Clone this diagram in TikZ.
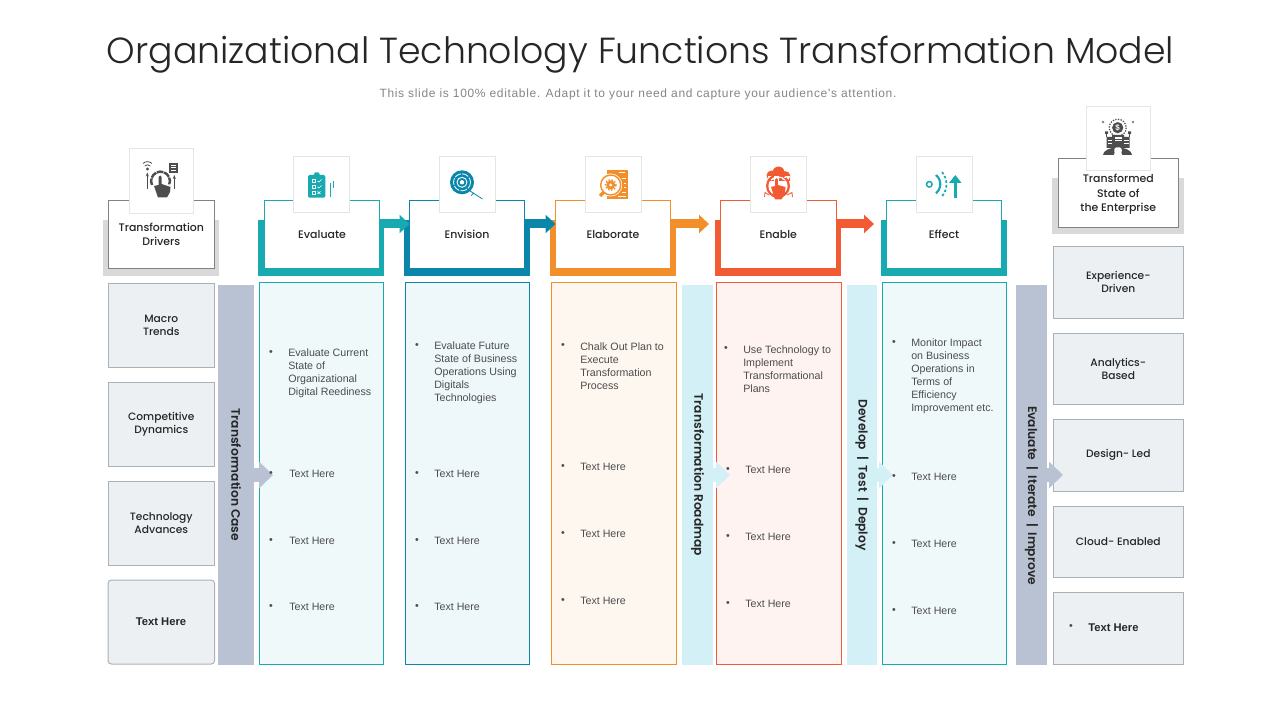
\documentclass[tikz,border=0pt]{standalone}
\usepackage{fontspec}
\setmainfont{Liberation Sans}
\newfontfamily\headfont{Poppins}
\newfontfamily\titlefont{Poppins Light}
\newfontfamily\midfont{Poppins Medium}
\newfontfamily\barfont{Poppins SemiBold}
\newfontfamily\subfont[LetterSpace=5.6]{Liberation Sans}
\usetikzlibrary{arrows.meta}
\def\pxu{0.75pt}
\definecolor{tealc}{HTML}{17ABB1}
\definecolor{bluec}{HTML}{0A86AB}
\definecolor{orangec}{HTML}{F28F2A}
\definecolor{redc}{HTML}{F15A32}
\definecolor{greyc}{HTML}{D9D9D9}
\definecolor{inkc}{HTML}{262626}
\definecolor{iconc}{HTML}{4D4D4D}
\definecolor{slatec}{HTML}{B8C2D2}
\definecolor{skyc}{HTML}{D3F0F7}
\definecolor{sidec}{HTML}{ECF0F2}
\definecolor{edgec}{HTML}{A8B2B8}
\tikzset{
  backbox/.style={rectangle,draw=none,inner sep=0pt,minimum width=126*\pxu,minimum height=56*\pxu},
  headbox/.style={rectangle,draw=#1,fill=white,line width=\pxu,inner sep=0pt,align=center,text=inkc,
    font=\midfont\fontsize{8.2}{10.4}\selectfont,minimum width=115.5*\pxu,minimum height=68*\pxu},
  iconbox/.style={rectangle,draw=black!10,fill=white,line width=\pxu,inner sep=0pt,minimum width=56*\pxu,minimum height=56*\pxu},
  columnbox/.style={rectangle,draw=#1,line width=\pxu,inner sep=0pt,minimum width=124*\pxu,minimum height=382*\pxu},
  sidebox/.style={rectangle,draw=edgec,fill=sidec,line width=\pxu,inner sep=0pt,align=center,
    text=inkc,font=\midfont\fontsize{8}{9.8}\selectfont},
  barbox/.style={rectangle,fill=#1,inner sep=0pt,rotate=-90,text=inkc,minimum width=380*\pxu,
    font=\barfont\fontsize{9.2}{11}\selectfont},
  flowarrow/.style={line width=9*\pxu,-{Triangle[length=10*\pxu,width=18*\pxu]}},
  bararrow/.style={line width=14*\pxu,-{Triangle[length=14*\pxu,width=26*\pxu]}},
  bodytext/.style={anchor=west,inner sep=0pt,align=left,text=iconc,font=\fontsize{8}{9.75}\selectfont},
  dotmark/.style={inner sep=0pt,text=iconc,font=\fontsize{8}{9.75}\selectfont},
  boldtext/.style={inner sep=0pt,text=inkc,font=\bfseries\fontsize{8.4}{9.75}\selectfont}
}
\begin{document}
\begin{tikzpicture}[x=\pxu,y=-\pxu]
\useasboundingbox (0,0) rectangle (1280,720);

\node[inner sep=0pt,text=inkc,font=\titlefont\fontsize{27.2}{32}\selectfont] (title) at (640.5,54.5) {Organizational Technology Functions Transformation Model};
\node[inner sep=0pt,text=black!48,font=\subfont\fontsize{9}{11}\selectfont] (subtitle) at (638,94.5) {This slide is 100\% editable. Adapt it to your need and capture your audience's attention.};

\node[backbox,fill=greyc,minimum width=116*\pxu] (driversBack) at (161,248) {};
\node[backbox,fill=tealc] (evaluateBack) at (321,248) {};
\node[backbox,fill=bluec] (envisionBack) at (467,248) {};
\node[backbox,fill=orangec] (elaborateBack) at (613,248) {};
\node[backbox,fill=redc] (enableBack) at (778,248) {};
\node[backbox,fill=tealc] (effectBack) at (944,248) {};
\node[backbox,fill=greyc,minimum width=132*\pxu] (stateBack) at (1118,206) {};

\coordinate (evaluateOut) at (380,224);
\coordinate (envisionOut) at (525,224);
\coordinate (elaborateOut) at (671,224);
\coordinate (enableOut) at (836,224);
\coordinate (envisionIn) at (409.5,224);
\coordinate (elaborateIn) at (555.5,224);
\coordinate (enableIn) at (709,224);
\coordinate (effectIn) at (874,224);
\draw[flowarrow,tealc] (evaluateOut) -- (envisionIn);
\draw[flowarrow,bluec] (envisionOut) -- (elaborateIn);
\draw[flowarrow,orangec] (elaborateOut) -- (enableIn);
\draw[flowarrow,redc] (enableOut) -- (effectIn);

\node[headbox=iconc!70,minimum width=106.5*\pxu] (drivers) at (161.3,234.3) {Transformation\\Drivers};
\node[headbox=tealc] (evaluate) at (322,234.8) {Evaluate};
\node[headbox=bluec] (envision) at (467,234.8) {Envision};
\node[headbox=orangec] (elaborate) at (613,234.8) {Elaborate};
\node[headbox=redc] (enable) at (778.3,234.8) {Enable};
\node[headbox=tealc] (effect) at (944,234.8) {Effect};
\node[headbox=iconc!70,minimum width=120.5*\pxu,minimum height=69*\pxu] (state) at (1118.3,193.2) {};
\node[inner sep=0pt,align=center,text=inkc,font=\midfont\fontsize{8.2}{10.9}\selectfont] (stateLabel) at (1118.3,194.5) {Transformed\\State of\\the Enterprise};

\node[iconbox,minimum width=64.5*\pxu,minimum height=65*\pxu] (driversIcon) at (161.3,181) {};
\node[iconbox] (evaluateIcon) at (321.5,185) {};
\node[iconbox] (envisionIcon) at (467.5,185) {};
\node[iconbox] (elaborateIcon) at (613.3,185) {};
\node[iconbox] (enableIcon) at (778.6,185) {};
\node[iconbox] (effectIcon) at (944,185) {};
\node[iconbox,minimum width=64.5*\pxu,minimum height=64*\pxu] (stateIcon) at (1118.6,138.2) {};

% driver icon
\draw[iconc,line width=2.4*\pxu,dash pattern=on 5pt off .6pt] (152,185) arc (-205:25:9.4);
\fill[iconc] (154,186) -- (158.5,185) -- (158.5,177) arc (180:360:1.6) -- (161.7,184) -- (170.5,187) -- (170,192) -- (167,197.5) -- (158,197.5) -- cycle;
\fill[iconc] (169,163) rectangle (178,173);
\draw[white,line width=\pxu] (171,165.5) -- (176,165.5) (171,168) -- (176,168) (171,170.5) -- (176,170.5);
\draw[iconc,line width=.8*\pxu,-{Stealth[length=3pt]}] (147.3,189) -- (147.3,172.5);
\draw[iconc,line width=.8*\pxu,-{Stealth[length=3pt]}] (174.3,189) -- (174.3,175);
\fill[iconc] (147.5,169) circle (1.7);
\draw[iconc,line width=.8*\pxu] (144.7,166) arc (-135:-45:4) (143,163.5) arc (-135:-45:6.3);

% clipboard icon
\fill[tealc,rounded corners=1pt] (308,175) rectangle (325.3,197.7);
\fill[tealc] (313.5,175) -- (315,172.5) -- (318.5,172.5) -- (320,175) -- cycle;
\draw[white,line width=.7*\pxu] (312,179.5) rectangle (315,182) (312,185.5) rectangle (315,188) (312,191.5) rectangle (315,194);
\draw[white,line width=.7*\pxu] (317.5,181) -- (319,182) -- (321.5,179.5) (317.5,187) -- (319,188) -- (321.5,185.5) (317.5,191.5) -- (320.5,194) (320.5,191.5) -- (317.5,194);
\draw[tealc,line width=1.6*\pxu] (330.5,183) -- (330.5,197);
\draw[tealc,line width=.7*\pxu] (333,181) -- (333,188);

% target icon
\fill[bluec] (462,182.3) circle (12);
\draw[white,line width=.8*\pxu,dash pattern=on 5pt off 1pt] (462,182.3) circle (8.5);
\draw[white,line width=.9*\pxu] (462,182.3) circle (5);
\fill[white] (462,182.3) circle (2.2);
\draw[bluec,line width=.8*\pxu] (470,191) -- (482.5,199) (471,195.5) -- (474,193);

% elaborate icon
\fill[orangec] (607.3,170) rectangle (628,199);
\draw[white,line width=.6*\pxu] (619,172.5) -- (625,172.5) (622,178) -- (626,178) (624,183) -- (626,183) (624,187.5) -- (626,187.5) (622,192) -- (626,192) (618,196) -- (626,196);
\fill[white] (610.7,185) circle (11.5);
\draw[orangec,line width=1.4*\pxu] (610.7,185) circle (10);
\fill[orangec] (610.7,185) circle (4.5);
\draw[orangec,line width=1.3*\pxu,dash pattern=on 1.2pt off 1.2pt] (610.7,185) circle (5.4);
\fill[white] (610.7,185) circle (1.7);
\draw[orangec,line width=3.5*\pxu] (604,192) -- (600,196);

% enable icon
\fill[redc] (778,186) circle (12);
\fill[white] (778,186) circle (9.6);
\fill[redc] (771.5,175.5) circle (5) (778.5,172.5) circle (6) (785.5,176) circle (4.8) (768,176) rectangle (790,181);
\draw[white,line width=.8*\pxu,dash pattern=on 1.5pt off 1pt] (781,177.5) -- (788,177.5);
\fill[white] (773.5,176) rectangle (778.5,181);
\fill[redc] (771,187) -- (775,186) -- (775,179.5) arc (180:360:1.4) -- (777.8,185) -- (785.5,187) -- (785,193) -- (781.5,199.5) -- (775,199.5) -- cycle;
\draw[redc,line width=.8*\pxu] (769,195) -- (765,192.5) -- (764.5,197) (787,195) -- (792,192.5) -- (792.5,197);

% effect icon
\draw[tealc,line width=1.5*\pxu] (929.3,184.3) circle (2.8);
\draw[tealc,line width=2.2*\pxu] (936,175) arc (-50:50:12);
\draw[tealc,line width=1.7*\pxu,dash pattern=on 2pt off 1.5pt] (942,172) arc (-40:40:19);
\draw[tealc,line width=3.2*\pxu,-{Triangle[length=6pt,width=9pt]}] (955.3,198) -- (955.3,175);

% state icon
\draw[iconc,line width=1.2*\pxu,dash pattern=on 1pt off 1pt] (1117.7,127.7) circle (8.5);
\fill[iconc] (1117.7,127.7) circle (5.6);
\node[inner sep=0pt,text=white,font=\bfseries\fontsize{6}{6}\selectfont] (coinMark) at (1117.7,127.7) {\$};
\fill[iconc] (1106.5,137) rectangle (1113,148) (1123,137) rectangle (1129.5,148) (1112,135) rectangle (1124,148);
\draw[white,line width=.7*\pxu] (1107.5,140) -- (1112,140) (1107.5,143) -- (1112,143) (1124,140) -- (1128.5,140) (1124,143) -- (1128.5,143);
\fill[white] (1114.5,137.5) rectangle (1121.5,141.5);
\draw[iconc,line width=.7*\pxu] (1114.5,139.5) -- (1121.5,139.5);
\draw[iconc,line width=.8*\pxu] (1106.5,137) -- (1106.5,132.5) (1129.5,137) -- (1129.5,132.5);
\fill[iconc] (1105,131.5) rectangle (1108,134) (1128,131.5) rectangle (1131,134);
\fill[iconc] (1103,155) arc (180:360:14.5 and 7.5) -- cycle;
\fill[white] (1114,155) .. controls (1116,151) and (1112,150) .. (1116,147.5) -- (1120,147.5) .. controls (1124,150) and (1120,151) .. (1122,155) -- cycle;
\fill[iconc!70] (1103,122) circle (1.3) (1133,122) circle (1.3);

\node[columnbox=tealc,fill=tealc!7] (evaluateCol) at (321,473) {};
\node[columnbox=bluec,fill=bluec!7] (envisionCol) at (467,473) {};
\node[columnbox=orangec,fill=orangec!7,minimum width=125*\pxu] (elaborateCol) at (613.5,473) {};
\node[columnbox=redc,fill=redc!7,minimum width=125*\pxu] (enableCol) at (778.5,473) {};
\node[columnbox=tealc,fill=tealc!7] (effectCol) at (944,473) {};

\node[barbox=slatec,minimum height=36*\pxu] (caseBar) at (236,475) {Transformation Case};
\node[barbox=skyc,minimum height=31*\pxu] (roadmapBar) at (697.5,475) {Transformation Roadmap};
\node[barbox=skyc,minimum height=30*\pxu] (deployBar) at (862,475) {Develop\ \ \textbar\ \ Test\ \ \textbar\ \ Deploy};
\node[barbox=slatec,minimum height=31*\pxu] (improveBar) at (1031.5,475) {};
\node[inner sep=0pt,rotate=-90,text=inkc,font=\barfont\fontsize{9.2}{11}\selectfont] (improveLabel) at (1031.5,495.5) {Evaluate\ \ \textbar\ \ Iterate\ \ \textbar\ \ Improve};

\node[sidebox,minimum width=106.5*\pxu,minimum height=84*\pxu] (macro) at (161.3,325) {Macro\\Trends};
\node[sidebox,minimum width=106.5*\pxu,minimum height=84*\pxu] (dynamics) at (161.3,424) {Competitive\\Dynamics};
\node[sidebox,minimum width=106.5*\pxu,minimum height=84*\pxu] (advances) at (161.3,523) {Technology\\Advances};
\node[sidebox,rounded corners=2.5pt,minimum width=106.5*\pxu,minimum height=84*\pxu] (driversMore) at (161.3,622) {};
\node[boldtext] (driversMoreText) at (161,621.5) {Text Here};

\node[sidebox,minimum width=130.5*\pxu,minimum height=72*\pxu] (experience) at (1118.3,282) {Experience-\\Driven};
\node[sidebox,minimum width=130.5*\pxu,minimum height=71*\pxu] (analytics) at (1118.3,368.5) {Analytics-\\Based};
\node[sidebox,minimum width=130.5*\pxu,minimum height=72*\pxu] (design) at (1118.3,455) {Design- Led};
\node[sidebox,minimum width=130.5*\pxu,minimum height=71*\pxu] (cloud) at (1118.3,541.5) {Cloud- Enabled};
\node[sidebox,minimum width=130.5*\pxu,minimum height=72*\pxu] (stateMore) at (1118.3,628) {};
\node[dotmark] (stateMoreDot) at (1071,627) {•};
\node[boldtext,anchor=west] (stateMoreText) at (1088,627.5) {Text Here};

\coordinate (caseTip) at (273,475);
\coordinate (roadmapTip) at (730,475);
\coordinate (deployTip) at (893,475);
\coordinate (improveTip) at (1063,475);
\draw[bararrow,slatec] (caseBar.north |- caseTip) -- (caseTip);
\draw[bararrow,skyc] (roadmapBar.north |- roadmapTip) -- (roadmapTip);
\draw[bararrow,skyc] (deployBar.north |- deployTip) -- (deployTip);
\draw[bararrow,slatec] (improveBar.north |- improveTip) -- (improveTip);

\node[dotmark] (evaluateDotA) at (271,353) {•};
\node[bodytext] (evaluateTextA) at (288,373.5) {Evaluate Current\\State of\\Organizational\\Digital Reediness};
\node[dotmark] (evaluateDotB) at (271,474) {•};
\node[bodytext] (evaluateTextB) at (289,474) {Text Here};
\node[dotmark] (evaluateDotC) at (271,541) {•};
\node[bodytext] (evaluateTextC) at (289,541) {Text Here};
\node[dotmark] (evaluateDotD) at (271,607) {•};
\node[bodytext] (evaluateTextD) at (289,607) {Text Here};

\node[dotmark] (envisionDotA) at (417,346) {•};
\node[bodytext] (envisionTextA) at (434,373) {Evaluate Future\\State of Business\\Operations Using\\Digitals\\Technologies};
\node[dotmark] (envisionDotB) at (417,474) {•};
\node[bodytext] (envisionTextB) at (434,474) {Text Here};
\node[dotmark] (envisionDotC) at (417,541) {•};
\node[bodytext] (envisionTextC) at (434,541) {Text Here};
\node[dotmark] (envisionDotD) at (417,607) {•};
\node[bodytext] (envisionTextD) at (434,607) {Text Here};

\node[dotmark] (elaborateDotA) at (563,346) {•};
\node[bodytext] (elaborateTextA) at (580,366.5) {Chalk Out Plan to\\Execute\\Transformation\\Process};
\node[dotmark] (elaborateDotB) at (563,467) {•};
\node[bodytext] (elaborateTextB) at (580,467) {Text Here};
\node[dotmark] (elaborateDotC) at (563,534) {•};
\node[bodytext] (elaborateTextC) at (580,534) {Text Here};
\node[dotmark] (elaborateDotD) at (563,601) {•};
\node[bodytext] (elaborateTextD) at (580,601) {Text Here};

\node[dotmark] (enableDotA) at (726,349) {•};
\node[bodytext] (enableTextA) at (743,369.5) {Use Technology to\\Implement\\Transformational\\Plans};
\node[dotmark] (enableDotB) at (728,470) {•};
\node[bodytext] (enableTextB) at (745,470) {Text Here};
\node[dotmark] (enableDotC) at (728,537) {•};
\node[bodytext] (enableTextC) at (745,537) {Text Here};
\node[dotmark] (enableDotD) at (728,604) {•};
\node[bodytext] (enableTextD) at (745,604) {Text Here};

\node[dotmark] (effectDotA) at (894,343) {•};
\node[bodytext] (effectTextA) at (911,376) {Monitor Impact\\on Business\\Operations in\\Terms of\\Efficiency\\Improvement etc.};
\node[dotmark] (effectDotB) at (894,477) {•};
\node[bodytext] (effectTextB) at (911,477) {Text Here};
\node[dotmark] (effectDotC) at (894,544) {•};
\node[bodytext] (effectTextC) at (911,544) {Text Here};
\node[dotmark] (effectDotD) at (894,611) {•};
\node[bodytext] (effectTextD) at (911,611) {Text Here};
\end{tikzpicture}
\end{document}
